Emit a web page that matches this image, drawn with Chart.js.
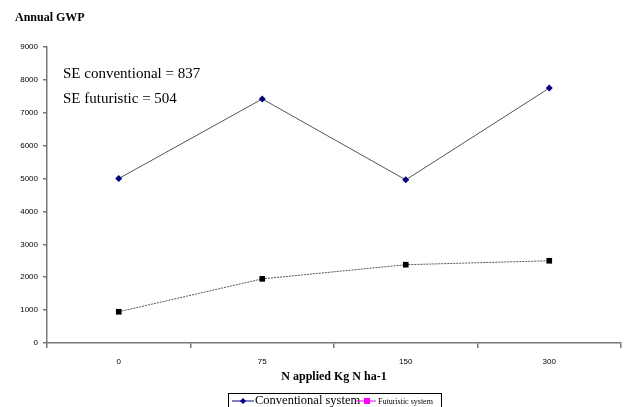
<!DOCTYPE html>
<html>
<head>
<meta charset="utf-8">
<script src="https://cdn.jsdelivr.net/npm/chart.js@4/dist/chart.umd.min.js"></script>
<style>
  html, body { margin: 0; padding: 0; background: #fff; }
  #wrap { width: 625px; height: 407px; }
</style>
</head>
<body>
<div id="wrap"><canvas id="line-chart" width="625" height="407"></canvas></div>
<script>
// values
var doses = ["0", "75", "150", "300"];
var conventional = [5000, 7420, 4960, 7750];
var futuristic = [950, 1950, 2380, 2500];
var yTicks = [0, 1000, 2000, 3000, 4000, 5000, 6000, 7000, 8000, 9000];
var notes = ["SE conventional = 837", "SE futuristic = 504"];
var xTitle = "N applied Kg N ha-1";

// heading, SE notes, x title and the boxed legend
var extras = {
    id: 'extras',
    afterDraw: function(chart) {
        var c = chart.ctx;
        c.save();
        c.fillStyle = '#000';
        c.textBaseline = 'middle';
        c.font = 'bold 12px "Liberation Serif", serif';
        c.fillText('Annual GWP', 15, 18);

        c.textAlign = 'center';
        c.fillText(xTitle, (chart.chartArea.left + chart.chartArea.right) / 2, 377);
        c.textAlign = 'left';

        c.font = '15px "Liberation Serif", serif';
        c.fillText(notes[0], 63, 74);
        c.fillText(notes[1], 63, 99);

        // legend box (cut off at the bottom like the original)
        c.strokeStyle = '#000';
        c.lineWidth = 1;
        c.strokeRect(228.5, 393.5, 213, 20);

        c.strokeStyle = '#000080';
        c.beginPath(); c.moveTo(232, 401); c.lineTo(254, 401); c.stroke();
        c.fillStyle = '#000080';
        c.beginPath();
        c.moveTo(243, 398); c.lineTo(246, 401); c.lineTo(243, 404); c.lineTo(240, 401);
        c.closePath(); c.fill();
        c.fillStyle = '#000';
        c.font = '12.5px "Liberation Serif", serif';
        c.fillText(chart.data.datasets[0].label, 255, 401);

        c.strokeStyle = '#ff00ff';
        c.beginPath(); c.moveTo(356, 401); c.lineTo(376, 401); c.stroke();
        c.fillStyle = '#ff00ff';
        c.fillRect(364, 398, 6, 6);
        c.fillStyle = '#000';
        c.font = '8px "Liberation Serif", serif';
        c.fillText(chart.data.datasets[1].label, 378, 402);
        c.restore();
    }
};

var ctx = document.getElementById('line-chart');

var lineChart = new Chart(ctx, {
    type: 'line',
    data: {
        labels: doses,
        datasets: [
            {
                label: 'Conventional system',
                data: conventional,
                borderColor: '#555',
                borderWidth: 1,
                pointStyle: 'rectRot',
                pointRadius: 3.5,
                pointBackgroundColor: '#000080',
                pointBorderColor: '#000080',
                pointBorderWidth: 0,
                tension: 0
            },
            {
                label: 'Futuristic system',
                data: futuristic,
                borderColor: '#555',
                borderWidth: 1,
                borderDash: [2, 1],
                pointStyle: 'rect',
                pointRadius: 4,
                pointBackgroundColor: '#000',
                pointBorderColor: '#000',
                pointBorderWidth: 0,
                tension: 0
            }
        ]
    },
    options: {
        responsive: false,
        animation: false,
        layout: { padding: { top: 47, right: 1, left: 0, bottom: 0 } },
        plugins: {
            legend: { display: false },
            tooltip: { enabled: false }
        },
        scales: {
            x: {
                offset: true,
                grid: {
                    offset: true,
                    drawOnChartArea: false,
                    tickLength: 5,
                    color: '#777',
                    lineWidth: 1.5
                },
                border: { color: '#777', width: 1.5 },
                ticks: {
                    color: '#000',
                    padding: 9,
                    font: { family: '"Liberation Sans", Arial', size: 8 }
                },
                afterFit: function(s) { s.height = 64; }
            },
            y: {
                min: 0,
                max: 9000,
                afterBuildTicks: function(s) {
                    s.ticks = yTicks.map(function(v) { return { value: v }; });
                },
                grid: {
                    drawOnChartArea: false,
                    tickLength: 4,
                    color: '#777',
                    lineWidth: 1.5
                },
                border: { color: '#777', width: 1.5 },
                ticks: {
                    color: '#000',
                    padding: 5,
                    font: { family: '"Liberation Sans", Arial', size: 8 },
                    callback: function(v) { return String(v); }
                },
                afterFit: function(s) { s.width = 47; }
            }
        }
    },
    plugins: [extras]
});
</script>
</body>
</html>
